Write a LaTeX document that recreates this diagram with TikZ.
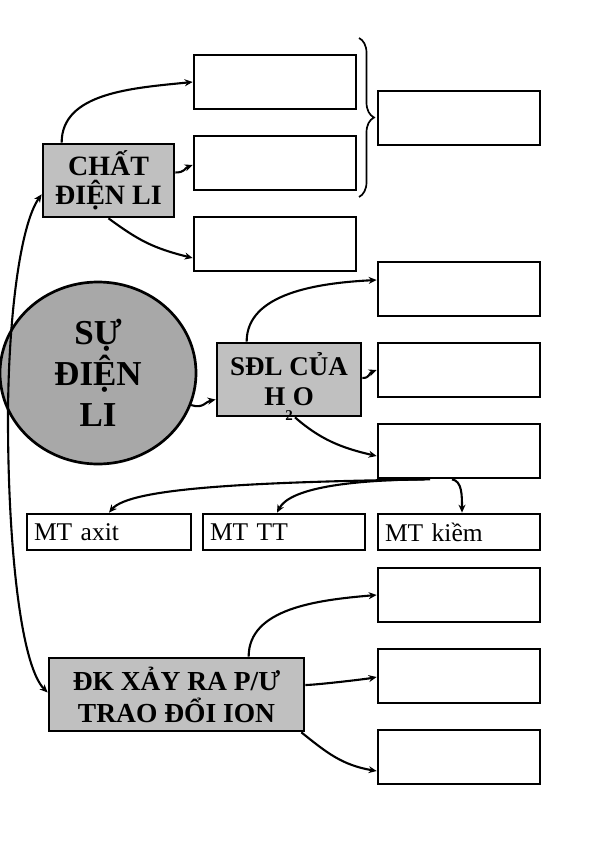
\documentclass[tikz,border=0pt]{standalone}
\usepackage{fontspec}
\setmainfont{Liberation Serif}
\usetikzlibrary{arrows.meta,shapes.geometric,decorations.pathreplacing}
\definecolor{boxgray}{RGB}{192,192,192}
\definecolor{circgray}{RGB}{168,168,168}
\begin{document}
\begin{tikzpicture}[x=1pt,y=-1pt,
  box/.style={draw, line width=2.7pt, minimum width=162pt, minimum height=54pt, inner sep=0pt},
  graybox/.style={draw, line width=2.7pt, fill=boxgray, inner sep=0pt, align=center, font=\bfseries},
  mtbox/.style={draw, line width=2.7pt, minimum height=36pt, inner xsep=7pt, inner ysep=0pt, align=left, font=\fontsize{25.5pt}{27pt}\selectfont},
  conn/.style={line width=2.1pt, -{Stealth[length=8pt,width=7pt]}},
  dconn/.style={line width=2.1pt, {Stealth[length=8pt,width=7pt]}-{Stealth[length=8pt,width=7pt]}}]
\useasboundingbox (0,0) rectangle (595,842);
\fill[white] (0,0) rectangle (595,842);

% central ellipse
\node[ellipse, draw, line width=2.7pt, fill=circgray, minimum width=196pt, minimum height=182pt, inner sep=0pt, align=center,
      font=\fontsize{35pt}{41pt}\selectfont\bfseries] (circ) at (98,373) {SỰ\\ĐIỆN\\LI};

% top group
\node[graybox, minimum width=131pt, minimum height=73pt, font=\fontsize{28pt}{29pt}\selectfont\bfseries] (cdl) at (108.5,180.5) {CHẤT\\ĐIỆN LI};
\node[box] (r1) at (275,82) {};
\node[box] (r2) at (275,163) {};
\node[box] (r3) at (275,244) {};
\node[box] (r4) at (459,118) {};
\draw[line width=1.7pt, decorate, decoration={brace, amplitude=15pt}] (359,38) -- (359,197);

% middle group
\node[graybox, minimum width=144pt, minimum height=73pt, font=\fontsize{27pt}{30pt}\selectfont\bfseries] (sdl) at (289,379.5)
  {SĐL CỦA\\H\smash{\raisebox{-15pt}{\fontsize{15pt}{15pt}\selectfont 2}}O};
\node[box] (s1) at (459,289) {};
\node[box] (s2) at (459,370) {};
\node[box] (s3) at (459,451) {};

% MT boxes
\node[mtbox, minimum width=164pt, text width=150pt] (mta) at (109,532) {MT axit};
\node[mtbox, minimum width=162pt, text width=148pt] (mtt) at (284,532) {MT TT};
\node[mtbox, minimum width=162pt, text width=148pt] (mtk) at (459,532) {MT kiềm};

% bottom group
\node[graybox, minimum width=255pt, minimum height=73pt, font=\fontsize{27.5pt}{32pt}\selectfont\bfseries] (dk) at (176.5,694.5) {ĐK XẢY RA P/Ư\\TRAO ĐỔI ION};
\node[box] (d1) at (459,595) {};
\node[box] (d2) at (459,676) {};
\node[box] (d3) at (459,757) {};

% connectors: top
\draw[conn] ([xshift=20pt]cdl.north west) .. controls +(0,-50) and +(-60,6) .. (r1.west);
\draw[conn] ([yshift=8pt]cdl.east) .. controls +(10,0) and +(-8,3) .. ([yshift=-2pt]r2.west);
\draw[conn] (cdl.south) .. controls +(30,22) and +(-40,-10) .. ([yshift=-14pt]r3.west);

% connectors: middle
\draw[conn] (circ.-19) .. controls +(12,4) and +(-10,2) .. ([yshift=-20pt]sdl.west);
\draw[conn] ([xshift=31pt]sdl.north west) .. controls +(0,-48) and +(-60,3) .. ([yshift=9pt]s1.west);
\draw[conn] ([yshift=1.5pt]sdl.east) .. controls +(8,0) and +(-8,3) .. (s2.west);
\draw[conn] ([xshift=6pt]sdl.south) .. controls +(25,22) and +(-35,-8) .. ([yshift=-5pt]s3.west);

% connectors: MT
\draw[conn] ([xshift=-29pt]s3.south) .. controls (250,482) and (130,488) .. (mta.north);
\draw[conn] ([xshift=-34pt]s3.south) .. controls (350,480) and (290,488) .. ([xshift=-7pt]mtt.north);
\draw[conn] ([xshift=-7pt]s3.south) .. controls (462,481) and (462,495) .. ([xshift=3pt]mtk.north);

% connectors: bottom
\draw[conn] ([xshift=201pt]dk.north west) .. controls +(0,-48) and +(-60,5) .. (d1.west);
\draw[conn] ([yshift=9.5pt]dk.east) .. controls +(10,0) and +(-10,2) .. ([yshift=-1pt]d2.west);
\draw[conn] ([xshift=-4pt]dk.south east) .. controls +(25,20) and +(-35,-6) .. ([yshift=-14pt]d3.west);

% long double arrow on the left
\draw[dconn] ([yshift=24pt]cdl.south west) .. controls (20,225) and (8,320) .. (8,420)
  .. controls (8,540) and (20,665) .. ([yshift=2pt]dk.west);
\end{tikzpicture}
\end{document}
